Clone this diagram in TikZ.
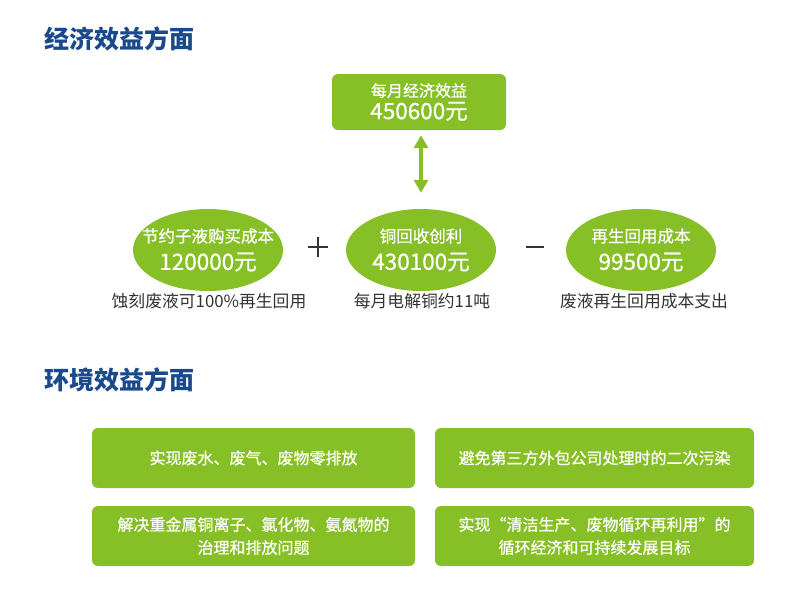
\documentclass[tikz,border=0pt]{standalone}
\usepackage{fontspec}
\setmainfont{Noto Sans CJK SC}
\newfontfamily\medfont[FakeBold=0.7]{Noto Sans CJK SC}
\usetikzlibrary{shapes.geometric,arrows.meta,calc}
\definecolor{leaf}{HTML}{86BF26}
\definecolor{navy}{HTML}{1B4A8C}
\definecolor{ink}{HTML}{333333}
\tikzset{
  title/.style={anchor=west,text=navy,font=\fontsize{25}{28}\selectfont\bfseries,inner sep=0},
  greenbox/.style={fill=leaf,rounded corners=6pt,text=white,align=center,inner sep=0,font=\medfont},
  oval/.style={ellipse,fill=leaf,minimum width=150pt,minimum height=82pt,inner sep=0},
  ovaltext/.style={text=white,align=center,font=\medfont,inner sep=0},
  caption/.style={text=ink,font=\fontsize{16.8}{18}\selectfont,inner sep=0},
  boxtext/.style={font=\medfont\fontsize{16}{23}\selectfont},
  dbl/.style={draw=leaf,line width=4.5pt,{Triangle[length=13pt,width=14pt]}-{Triangle[length=13pt,width=14pt]}},
  opline/.style={draw=ink,line width=1.2pt}
}
\begin{document}
\begin{tikzpicture}[x=1pt,y=-1pt]
\useasboundingbox (0,0) rectangle (800,600);
\node[title] (t1) at (44,39) {经济效益方面};
\node[title] (t2) at (44,380) {环境效益方面};
% top box
\node[greenbox,minimum width=174pt,minimum height=56pt] (top) at (419,102)
  {{\fontsize{16}{18}\selectfont 每月经济效益}\\[3pt]{\fontsize{22.5}{22}\selectfont 450600元}};
% ellipses
\node[oval] (e1) at (208,250) {};
\node[oval] (e2) at (421,250) {};
\node[oval] (e3) at (641,250) {};
\node[ovaltext] (e1t) at (e1) {{\fontsize{16.5}{18}\selectfont 节约子液购买成本}\\[8pt]{\fontsize{22.5}{22}\selectfont 120000元}};
\node[ovaltext] (e2t) at (e2) {{\fontsize{16.5}{18}\selectfont 铜回收创利}\\[8pt]{\fontsize{22.5}{22}\selectfont 430100元}};
\node[ovaltext] (e3t) at (e3) {{\fontsize{16.5}{18}\selectfont 再生回用成本}\\[8pt]{\fontsize{22.5}{22}\selectfont 99500元}};
\draw[dbl,shorten <=5pt,shorten >=16pt] (top.south -| e2) -- (e2.north);
% captions
\node[caption] (c1) at (209,301) {蚀刻废液可100\%再生回用};
\node[caption] (c2) at (422,301) {每月电解铜约11吨};
\node[caption] (c3) at (644,301) {废液再生回用成本支出};
% operators
\coordinate (plus) at (318,247);
\coordinate (minus) at (535,247);
\draw[opline] ($(plus)+(-10,0)$) -- ($(plus)+(10,0)$);
\draw[opline] ($(plus)+(0,-10)$) -- ($(plus)+(0,10)$);
\draw[opline] ($(minus)+(-9,0)$) -- ($(minus)+(9,0)$);
% bottom boxes
\node[greenbox,minimum width=323pt,minimum height=60pt,boxtext] (b1) at (253.5,458) {实现废水、废气、废物零排放};
\node[greenbox,minimum width=319pt,minimum height=60pt,boxtext] (b2) at (594.5,458) {避免第三方外包公司处理时的二次污染};
\node[greenbox,minimum width=323pt,minimum height=60pt,boxtext] (b3) at (253.5,536) {解决重金属铜离子、氯化物、氨氮物的\\治理和排放问题};
\node[greenbox,minimum width=319pt,minimum height=60pt,boxtext] (b4) at (594.5,536) {实现“清洁生产、废物循环再利用”的\\循环经济和可持续发展目标};
\end{tikzpicture}
\end{document}
